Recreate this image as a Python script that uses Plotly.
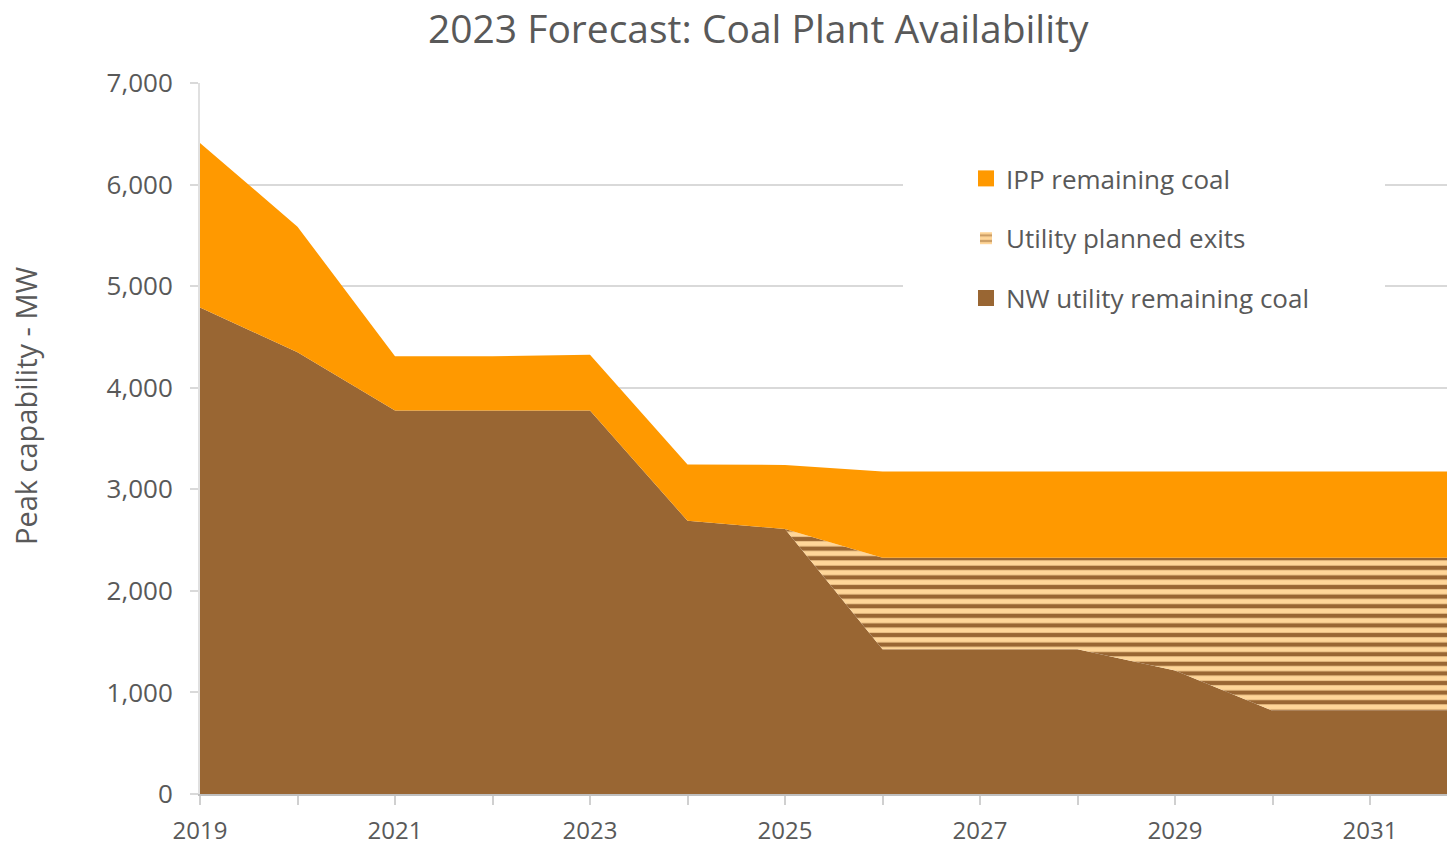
import plotly.graph_objects as go

years = [2019, 2020, 2021, 2022, 2023, 2024, 2025, 2026, 2027, 2028, 2029, 2030, 2031, 2032]
nw_remaining = [4790, 4350, 3775, 3775, 3775, 2690, 2610, 1425, 1425, 1425, 1215, 820, 820, 820]
utility_exits = [0, 0, 0, 0, 0, 0, 0, 900, 900, 900, 1110, 1505, 1505, 1505]
ipp_remaining = [1620, 1235, 535, 535, 550, 555, 630, 850, 850, 850, 850, 850, 850, 850]

tick_vals = [2019, 2020, 2021, 2022, 2023, 2024, 2025, 2026, 2027, 2028, 2029, 2030, 2031, 2032]
tick_text = ["2019", "", "2021", "", "2023", "", "2025", "", "2027", "", "2029", "", "2031", ""]

BROWN = "#996633"
ORANGE = "#FF9900"
PEACH = "#FFD699"
TXT = "#595959"
FONT = "Open Sans"

fig = go.Figure()
fig.add_trace(go.Scatter(x=years, y=nw_remaining, stackgroup="one", mode="lines",
                         line=dict(width=0), fillcolor=BROWN, showlegend=False,
                         name="NW utility remaining coal"))
fig.add_trace(go.Scatter(x=years, y=utility_exits, stackgroup="one", mode="lines",
                         line=dict(width=0), fillcolor=PEACH, showlegend=False,
                         fillpattern=dict(shape="-", fgcolor=BROWN, bgcolor=PEACH,
                                          size=9.6, solidity=0.45, fillmode="replace"),
                         name="Utility planned exits"))
fig.add_trace(go.Scatter(x=years, y=ipp_remaining, stackgroup="one", mode="lines",
                         line=dict(width=0), fillcolor=ORANGE, showlegend=False,
                         name="IPP remaining coal"))

# legend entries
fig.add_trace(go.Scatter(x=[None], y=[None], mode="markers", name="IPP remaining coal",
                         marker=dict(symbol="square", size=16, color=ORANGE),
                         legendgroup="a", legendrank=1))
fig.add_trace(go.Bar(x=[None], y=[None], name="Utility planned exits",
                     marker=dict(color=PEACH, line=dict(width=0),
                                 pattern=dict(shape="-", fgcolor=BROWN, bgcolor=PEACH,
                                              size=7, solidity=0.4)),
                     legendgroup="b", legendrank=2))
fig.add_trace(go.Scatter(x=[None], y=[None], mode="markers", name="NW utility remaining coal",
                         marker=dict(symbol="square", size=16, color=BROWN),
                         legendgroup="c", legendrank=3))

fig.update_layout(
    width=1447, height=847,
    margin=dict(l=200, r=0, t=83, b=53, autoexpand=False),
    paper_bgcolor="white", plot_bgcolor="white",
    font=dict(family=FONT, color=TXT, size=26),
    title=dict(text="2023 Forecast: Coal Plant Availability", x=0.524, xref="container",
               xanchor="center", y=(847 - 29) / 847, yref="container", yanchor="middle",
               font=dict(size=39, color=TXT, family=FONT)),
    showlegend=True,
    legend=dict(x=(966 - 200) / 1247, xanchor="left", y=(794 - 155) / 711, yanchor="top",
                bgcolor="rgba(0,0,0,0)", borderwidth=0, traceorder="grouped",
                tracegroupgap=23, font=dict(size=26, color=TXT, family=FONT)),
    shapes=[dict(type="rect", xref="paper", yref="paper", layer="above",
                 x0=(903 - 200) / 1247, x1=(1385 - 200) / 1247,
                 y0=(794 - 330) / 711, y1=(794 - 135) / 711,
                 fillcolor="white", line=dict(width=0))],
    annotations=[dict(text="Peak capability - MW", textangle=-90, xref="paper", yref="paper",
                      x=-(200 - 25) / 1247, y=(794 - 405) / 711, xanchor="center", yanchor="middle",
                      showarrow=False, font=dict(size=29, color=TXT, family=FONT))],
)

fig.update_xaxes(range=[2019, 2019 + 1247 / 97.5], tickvals=tick_vals, ticktext=tick_text,
                 showgrid=False, showline=True, linecolor="#BFBFBF", linewidth=2,
                 ticks="outside", ticklen=9, tickwidth=2, tickcolor="#D0D0D0",
                 tickfont=dict(size=24, color=TXT, family=FONT),
                 zeroline=False, ticklabelstandoff=5, automargin=False)
fig.update_yaxes(range=[0, 7000], dtick=1000, tickformat=",d", showgrid=True,
                 gridcolor="#D9D9D9", gridwidth=2, showline=True, linecolor="#E0E0E0",
                 linewidth=2, ticks="outside", ticklen=8, tickwidth=2, tickcolor="#D9D9D9",
                 zeroline=False, ticklabelstandoff=12, automargin=False)

fig.write_html("out.html", config={"displayModeBar": False},
               post_script="document.body.style.margin='0';document.body.style.overflow='hidden';")
